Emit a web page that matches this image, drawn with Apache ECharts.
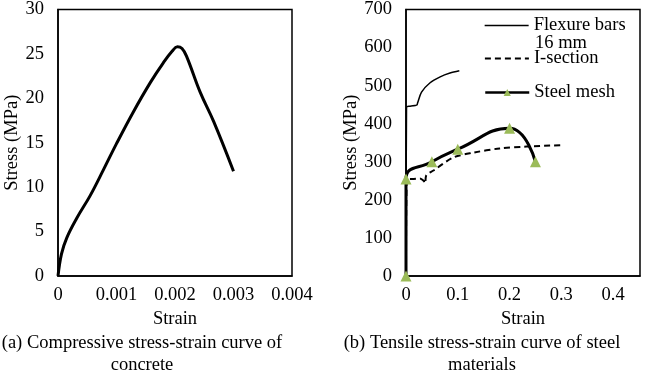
<!DOCTYPE html>
<html>
<head>
<meta charset="utf-8">
<script src="https://cdn.jsdelivr.net/npm/echarts@6/dist/echarts.min.js"></script>
<style>
html,body{margin:0;padding:0;background:#fff;}
#c{width:649px;height:375px;}
</style>
</head>
<body>
<div id="c"></div>
<script>
// (a) concrete
const concreteStrain = [0, 0.00006, 0.00015, 0.00032, 0.00055, 0.00078, 0.001, 0.00129, 0.00158, 0.0018, 0.00195, 0.00204, 0.00212, 0.0022, 0.00243, 0.00266, 0.003];
const concreteStress = [0, 2.5, 4.3, 6.5, 9.05, 12, 14.9, 18.5, 21.8, 24, 25.3, 25.8, 25.6, 24.7, 20.7, 17.4, 11.8];
// (b) steel
const flexureStrain = [0, 0.001, 0.008, 0.017, 0.021, 0.0225, 0.03, 0.046, 0.066, 0.085, 0.103];
const flexureStress = [0, 444, 446, 448, 449, 455, 483, 507, 523, 533, 539];
const isectionStrain = [0, 0.002, 0.015, 0.027, 0.034, 0.037, 0.039, 0.053, 0.091, 0.13, 0.181, 0.233, 0.304];
const isectionStress = [0, 255, 255, 256, 250, 243, 264, 277, 311, 324, 335, 340, 344];
const meshStrain = [0, 0, 0.05, 0.1, 0.2, 0.25];
const meshStress = [0, 255, 300, 333, 388, 300];
const xTicksA = [0, 0.001, 0.002, 0.003, 0.004];
const yTicksA = [0, 5, 10, 15, 20, 25, 30];
const xTicksB = [0, 0.1, 0.2, 0.3, 0.4];
const yTicksB = [0, 100, 200, 300, 400, 500, 600, 700];

const FONT = 'Liberation Serif';
const FS = 18.5;
const zip = (a, b) => a.map((v, i) => [v, b[i]]);
const chart = echarts.init(document.getElementById('c'));

const axisCommon = {
  axisLine: {show: true, onZero: false, lineStyle: {color: '#000', width: 1.5}},
  axisTick: {show: false},
  splitLine: {show: false},
  nameTextStyle: {fontFamily: FONT, fontSize: FS, color: '#000'}
};
const lab = (m) => ({fontFamily: FONT, fontSize: FS, color: '#000', margin: m});
const legText = {fontFamily: FONT, fontSize: FS, color: '#000'};

chart.setOption({
  animation: false,
  grid: [
    {left: 58, top: 4, width: 234, height: 272, show: true, borderColor: '#000', borderWidth: 1.5, backgroundColor: 'transparent'},
    {left: 406, top: 4, width: 234, height: 272, show: true, borderColor: '#000', borderWidth: 1.5, backgroundColor: 'transparent'}
  ],
  xAxis: [
    Object.assign({}, axisCommon, {type: 'value', gridIndex: 0, min: xTicksA[0], max: xTicksA[xTicksA.length-1], interval: xTicksA[1]-xTicksA[0],
      name: 'Strain', nameLocation: 'middle', nameGap: 29, axisLabel: lab(10)}),
    Object.assign({}, axisCommon, {type: 'value', gridIndex: 1, min: xTicksB[0], max: 0.452, interval: xTicksB[1]-xTicksB[0],
      name: 'Strain', nameLocation: 'middle', nameGap: 29,
      axisLabel: Object.assign(lab(10), {showMaxLabel: false, formatter: v => xTicksB.some(t => Math.abs(t - v) < 1e-9) ? String(+v.toFixed(1)) : ''})})
  ],
  yAxis: [
    Object.assign({}, axisCommon, {type: 'value', gridIndex: 0, min: yTicksA[0], max: yTicksA[yTicksA.length-1], interval: yTicksA[1]-yTicksA[0],
      name: 'Stress (MPa)', nameLocation: 'middle', nameGap: 36, axisLabel: lab(14)}),
    Object.assign({}, axisCommon, {type: 'value', gridIndex: 1, min: yTicksB[0], max: yTicksB[yTicksB.length-1], interval: yTicksB[1]-yTicksB[0],
      name: 'Stress (MPa)', nameLocation: 'middle', nameGap: 44, axisLabel: lab(14)})
  ],
  legend: [
    {left: 484, top: 16, padding: 0, itemWidth: 44, itemHeight: 14, textStyle: legText,
     data: [{name: 'Flexure bars', itemStyle: {opacity: 0}, lineStyle: {width: 1.3}}]},
    {left: 484, top: 49, padding: 0, itemWidth: 44, itemHeight: 14, textStyle: legText,
     data: [{name: 'I-section', itemStyle: {opacity: 0}, lineStyle: {width: 1.8}}]},
    {left: 484, top: 83, padding: 0, itemWidth: 44, itemHeight: 9, textStyle: legText,
     data: [{name: 'Steel mesh', lineStyle: {width: 2.5}}]}
  ],
  graphic: [
    {type: 'text', x: 535, y: 43, style: {text: '16 mm', font: FS + 'px "Liberation Serif"', fill: '#000', textVerticalAlign: 'middle'}},
    {type: 'text', x: 142, y: 343, style: {text: '(a) Compressive stress-strain curve of', font: '18.5px "Liberation Serif"', fill: '#000', textAlign: 'center', textVerticalAlign: 'middle'}},
    {type: 'text', x: 142, y: 365, style: {text: 'concrete', font: '18.5px "Liberation Serif"', fill: '#000', textAlign: 'center', textVerticalAlign: 'middle'}},
    {type: 'text', x: 482, y: 343, style: {text: '(b) Tensile stress-strain curve of steel', font: '18.5px "Liberation Serif"', fill: '#000', textAlign: 'center', textVerticalAlign: 'middle'}},
    {type: 'text', x: 482, y: 365, style: {text: 'materials', font: '18.5px "Liberation Serif"', fill: '#000', textAlign: 'center', textVerticalAlign: 'middle'}}
  ],
  series: [
    {name: 'Concrete', type: 'line', xAxisIndex: 0, yAxisIndex: 0, data: zip(concreteStrain, concreteStress),
     smooth: 0.4, symbol: 'none', lineStyle: {color: '#000', width: 3}},
    {name: 'Flexure bars', type: 'line', xAxisIndex: 1, yAxisIndex: 1, data: zip(flexureStrain, flexureStress),
     smooth: 0.3, symbol: 'none', lineStyle: {color: '#000', width: 1.5}, itemStyle: {color: '#000'}},
    {name: 'I-section', type: 'line', xAxisIndex: 1, yAxisIndex: 1, data: zip(isectionStrain, isectionStress),
     smooth: 0.3, symbol: 'none', lineStyle: {color: '#000', width: 2, type: [6, 4]}, itemStyle: {color: '#000'}},
    {name: 'Steel mesh', type: 'line', xAxisIndex: 1, yAxisIndex: 1, data: zip(meshStrain, meshStress),
     smooth: 0.5, symbol: 'triangle', symbolSize: 11, showAllSymbol: true,
     lineStyle: {color: '#000', width: 3}, itemStyle: {color: '#9BBB59'}}
  ]
});
</script>
</body>
</html>
